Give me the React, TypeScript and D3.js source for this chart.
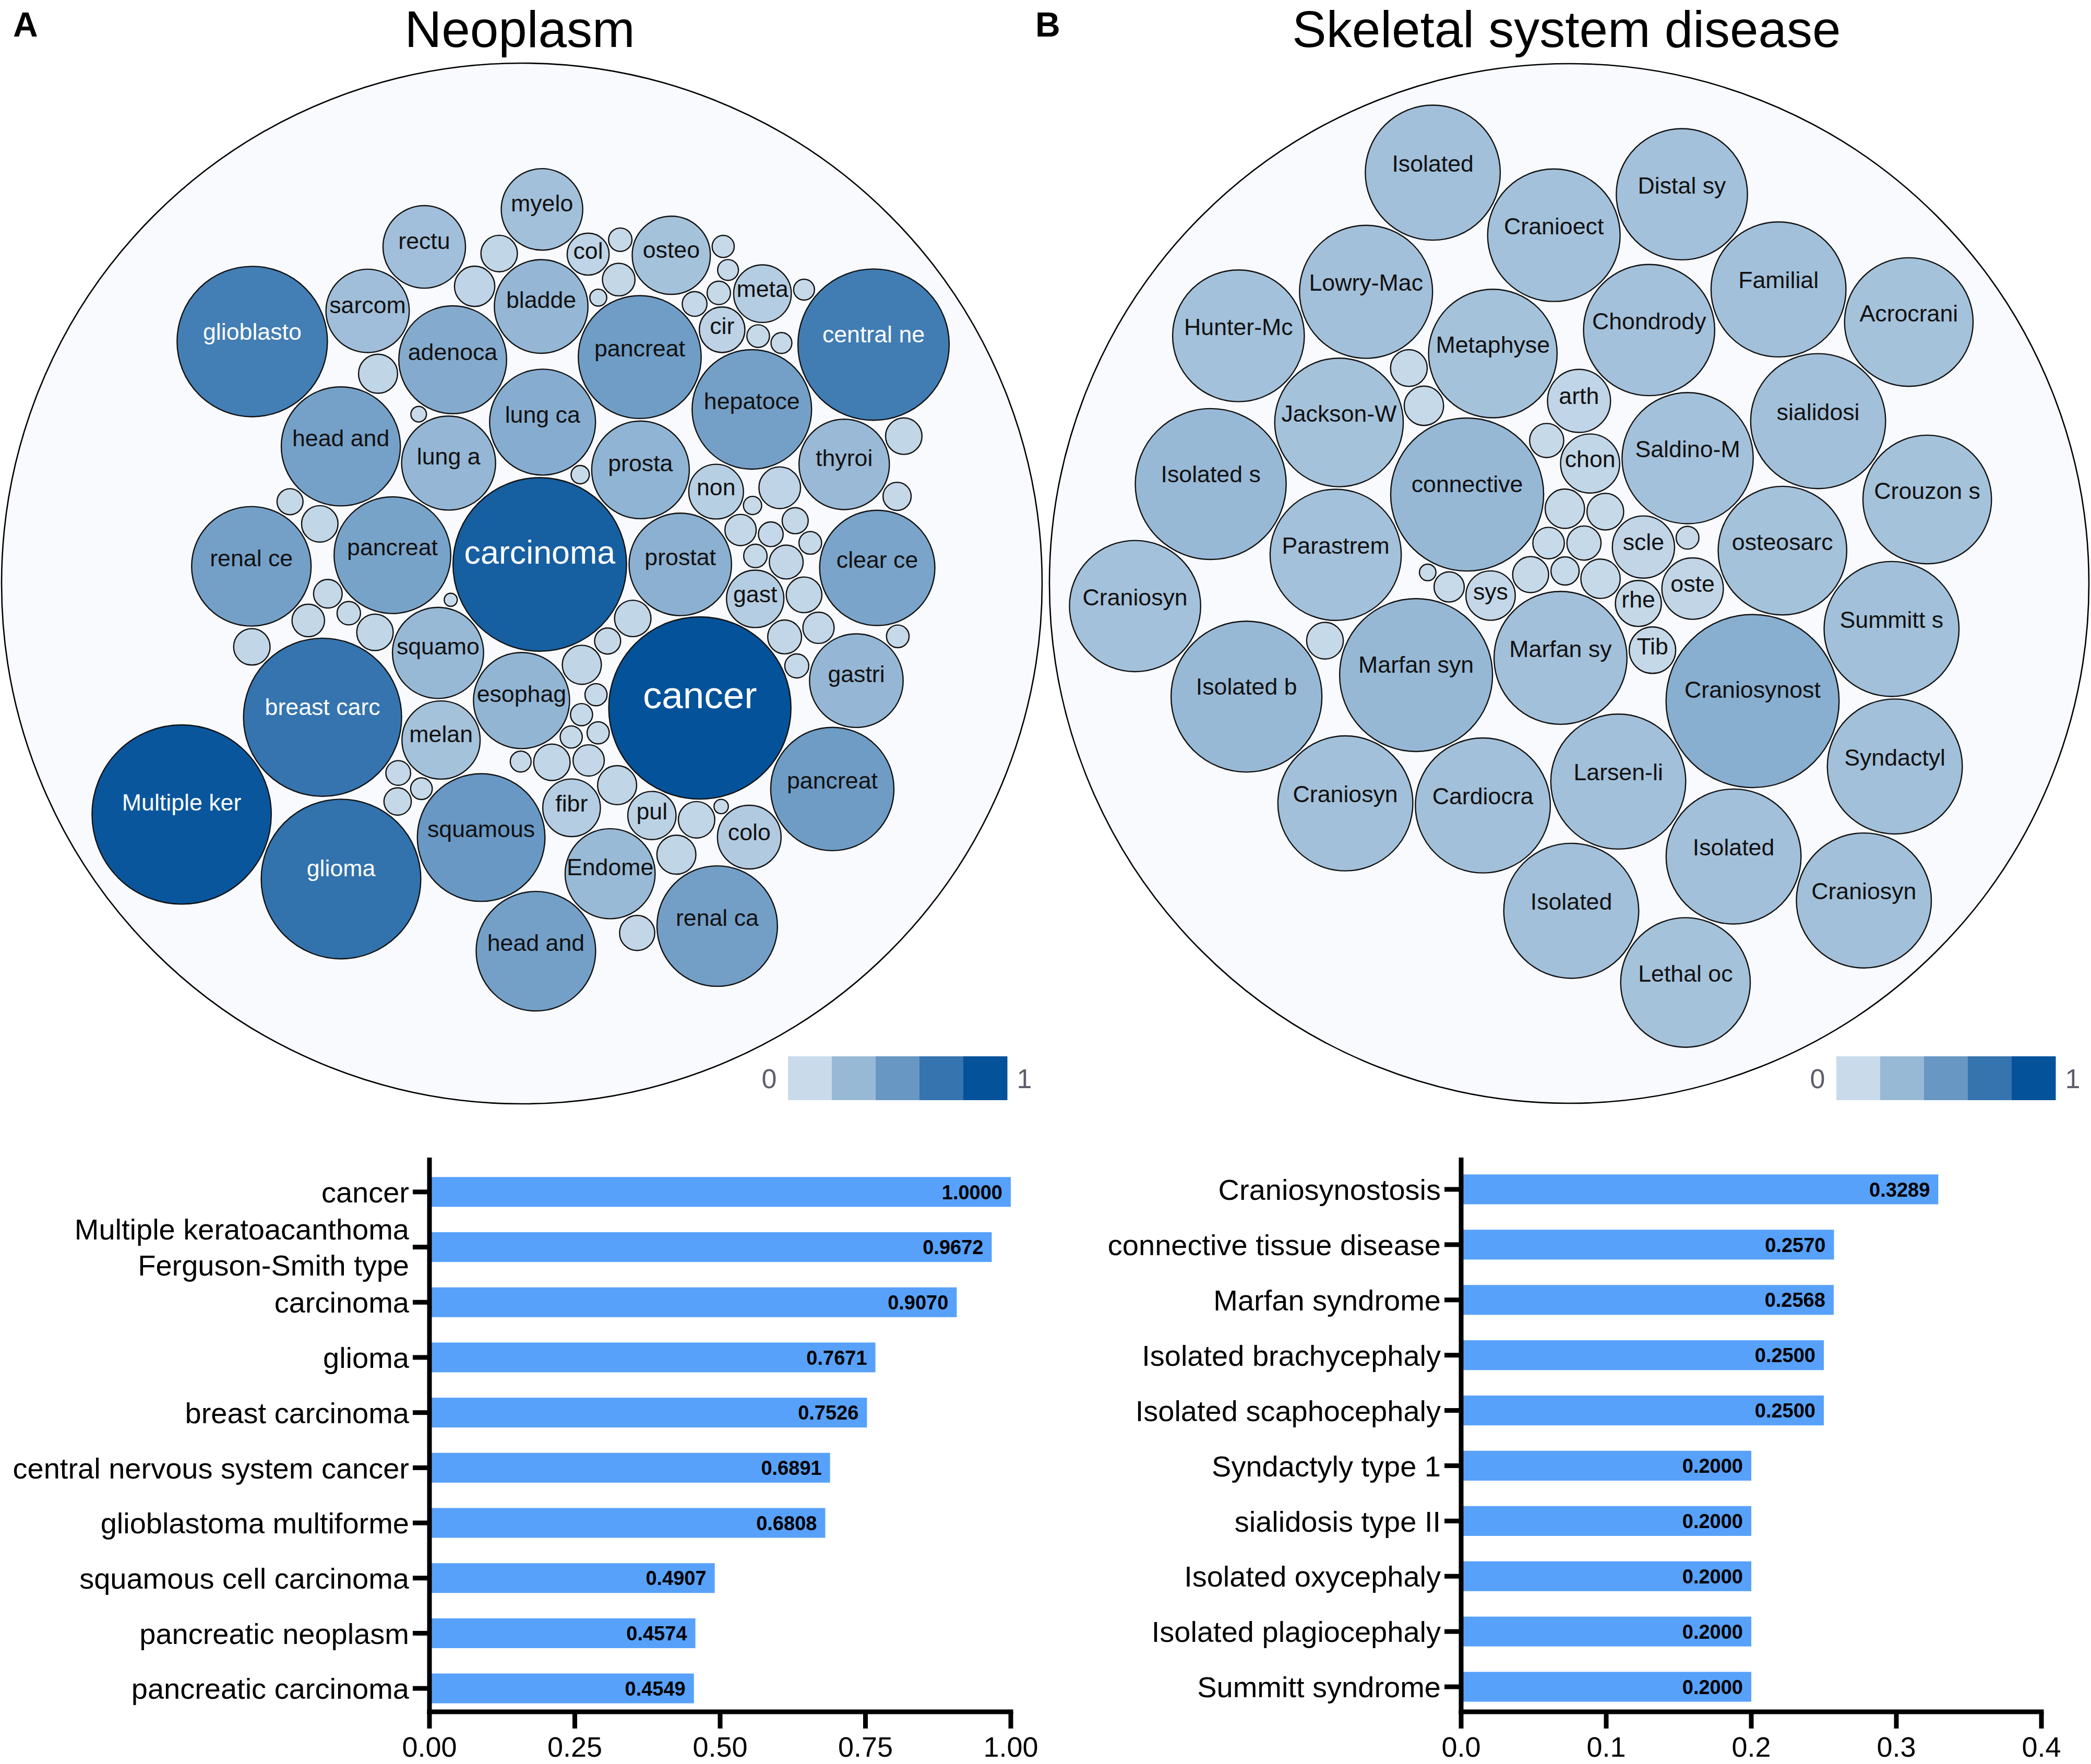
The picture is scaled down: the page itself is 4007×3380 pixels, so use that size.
import React, { useMemo } from "react";
import * as d3 from "d3";

const W = 4007;
const H = 3380;
const FONT = "'Liberation Sans', Arial, Helvetica, sans-serif";

// ---------- Bubble data (listed from the centre of the cluster outward) ----------
const neoLabels = [
  "carcinoma", "prostat", "", "prosta", "", "", "", "cancer", "", "lung ca",
  "non", "esophag", "pancreat", "lung a", "squamo", "gast", "", "", "hepatoce", "pancreat",
  "", "", "", "", "", "", "adenoca", "", "melan", "",
  "", "", "", "", "", "", "bladde", "head and", "", "fibr",
  "", "", "", "squamous", "", "clear ce", "breast carc", "thyroi", "", "",
  "cir", "pul", "gastri", "", "pancreat", "", "", "Endome", "", "",
  "", "", "", "central ne", "", "", "renal ce", "", "", "",
  "head and", "", "", "col", "colo", "", "osteo", "", "", "",
  "renal ca", "sarcom", "", "", "meta", "", "glioblasto", "glioma", "rectu", "Multiple ker",
  "", "", "", "", "myelo", "", "",
];
const neoValues = [
  0.907, 0.316, 0.04, 0.287, 0.0204, 0.01, 0.0459, 1.0, 0.0147, 0.338,
  0.09, 0.278, 0.4549, 0.266, 0.25, 0.099, 0.0147, 0.0294, 0.43, 0.41,
  0.0051, 0.0147, 0.0165, 0.04, 0.01, 0.0147, 0.35, 0.0184, 0.184, 0.0294,
  0.0345, 0.0522, 0.0345, 0.0204, 0.0459, 0.04, 0.264, 0.427, 0.0383, 0.1,
  0.0154, 0.0131, 0.0294, 0.4907, 0.0173, 0.4, 0.7526, 0.246, 0.0238, 0.0073,
  0.0625, 0.07, 0.264, 0.0165, 0.4574, 0.0459, 0.0154, 0.244, 0.04, 0.0086,
  0.04, 0.0247, 0.0319, 0.6891, 0.049, 0.0184, 0.43, 0.0141, 0.0154, 0.0184,
  0.43, 0.0062, 0.0319, 0.053, 0.122, 0.0459, 0.184, 0.0225, 0.0131, 0.0204,
  0.437, 0.209, 0.0165, 0.0372, 0.1, 0.0131, 0.6808, 0.7671, 0.205, 0.9672,
  0.0131, 0.04, 0.0147, 0.04, 0.2, 0.0165, 0.04,
];

const skelLabels = [
  "", "", "", "", "", "", "", "connective", "scle", "sys",
  "Marfan sy", "chon", "", "rhe", "Saldino-M", "Tib", "oste", "", "Marfan syn", "arth",
  "", "Chondrody", "Metaphyse", "osteosarc", "Craniosynost", "", "Larsen-li", "Parastrem", "Cardiocra", "",
  "Cranioect", "Jackson-W", "sialidosi", "Familial", "", "", "Lowry-Mac", "Summitt s", "Isolated", "Isolated",
  "Craniosyn", "Isolated s", "Crouzon s", "Isolated b", "Isolated", "Craniosyn", "Distal sy", "Hunter-Mc", "Syndactyl", "Lethal oc",
  "Acrocrani", "Craniosyn",
];
const skelValues = [
  0.0109, 0.0128, 0.0087, 0.017, 0.017, 0.0142, 0.0148, 0.257, 0.0425, 0.0267,
  0.194, 0.0383, 0.0128, 0.0232, 0.189, 0.0237, 0.0414, 0.01, 0.2568, 0.0436,
  0.0057, 0.189, 0.1815, 0.1815, 0.3289, 0.003, 0.2, 0.189, 0.2, 0.017,
  0.1928, 0.1815, 0.2, 0.2, 0.0148, 0.0148, 0.1944, 0.2, 0.2, 0.2,
  0.2, 0.25, 0.1815, 0.25, 0.2, 0.189, 0.189, 0.1905, 0.2, 0.1845,
  0.1815, 0.2,
];

// ---------- Bar data ----------
const neoBarLabels = [
  "cancer",
  "Multiple keratoacanthoma\nFerguson-Smith type",
  "carcinoma",
  "glioma",
  "breast carcinoma",
  "central nervous system cancer",
  "glioblastoma multiforme",
  "squamous cell carcinoma",
  "pancreatic neoplasm",
  "pancreatic carcinoma",
];
const neoBarValues = [1.0, 0.9672, 0.907, 0.7671, 0.7526, 0.6891, 0.6808, 0.4907, 0.4574, 0.4549];

const skelBarLabels = [
  "Craniosynostosis",
  "connective tissue disease",
  "Marfan syndrome",
  "Isolated brachycephaly",
  "Isolated scaphocephaly",
  "Syndactyly type 1",
  "sialidosis type II",
  "Isolated oxycephaly",
  "Isolated plagiocephaly",
  "Summitt syndrome",
];
const skelBarValues = [0.3289, 0.257, 0.2568, 0.25, 0.25, 0.2, 0.2, 0.2, 0.2, 0.2];

const neoTicks = [0, 0.25, 0.5, 0.75, 1.0];
const skelTicks = [0, 0.1, 0.2, 0.3, 0.4];
const legendStops = [0, 0.25, 0.5, 0.75, 1];

const colorScale = d3
  .scaleLinear<string>()
  .domain([0, 1])
  .range(["#c9dbea", "#04529a"])
  .interpolate(d3.interpolateRgb);

type PNode = { i: number; v: number; r: number; x: number; y: number };

function Bubbles(props: {
  cx: number;
  cy: number;
  R: number;
  labels: string[];
  values: number[];
  refK: number;
}) {
  const { cx, cy, R, labels, values, refK } = props;
  const layout = useMemo(() => {
    const pad = 2.5 / refK;
    const nodes: PNode[] = values.map((v, i) => ({ i, v, r: Math.sqrt(v) + pad, x: 0, y: 0 }));
    d3.packSiblings(nodes as any);
    const enc = d3.packEnclose(nodes as any) as any;
    const k = Math.min(refK, (R * 0.965) / enc.r);
    return { nodes, enc, k, pad };
  }, [values, refK, R]);
  const sx = d3.scaleLinear().domain([layout.enc.x, layout.enc.x + 1]).range([cx, cx + layout.k]);
  const sy = d3.scaleLinear().domain([layout.enc.y, layout.enc.y + 1]).range([cy, cy + layout.k]);
  return (
    <g>
      <circle cx={cx} cy={cy} r={R} fill="#f8fafd" stroke="#000" strokeWidth={2.6} />
      {layout.nodes.map((n) => {
        const r = (n.r - layout.pad) * layout.k;
        const x = sx(n.x);
        const y = sy(n.y);
        const lab = labels[n.i];
        const big = r > 153 && lab.length <= 9;
        const fs = big ? Math.min(72.8, (3.4 * r) / lab.length) : 44.7;
        return (
          <g key={n.i}>
            <circle cx={x} cy={y} r={r} fill={colorScale(n.v)} stroke="#111" strokeWidth={2.4} />
            {lab ? (
              <text
                x={x}
                y={y - 0.12 * r}
                dy="0.3em"
                textAnchor="middle"
                fontSize={fs}
                fill={n.v >= 0.6 ? "#ffffff" : "#111111"}
              >
                {lab}
              </text>
            ) : null}
          </g>
        );
      })}
    </g>
  );
}

function Legend(props: { x0: number; x1: number; y: number; h: number }) {
  const { x0, x1, y, h } = props;
  const band = d3.scaleBand<number>().domain(legendStops.map((_, i) => i)).range([x0, x1]);
  return (
    <g>
      {legendStops.map((s, i) => (
        <rect key={i} x={band(i)!} y={y} width={band.bandwidth() + 0.5} height={h} fill={colorScale(s)} />
      ))}
      <text x={x0 - 36} y={y + h / 2} dy="0.36em" textAnchor="middle" fontSize={52} fill="#5d5d6b">
        0
      </text>
      <text x={x1 + 33} y={y + h / 2} dy="0.36em" textAnchor="middle" fontSize={52} fill="#5d5d6b">
        1
      </text>
    </g>
  );
}

function BarChart(props: {
  labels: string[];
  values: number[];
  xMax: number;
  ticks: number[];
  fmt: (v: number) => string;
  x0: number;
  x1: number;
  bandTop: number;
  bandBottom: number;
  axisTop: number;
  axisY: number;
}) {
  const { labels, values, xMax, ticks, fmt, x0, x1, bandTop, bandBottom, axisTop, axisY } = props;
  const x = d3.scaleLinear().domain([0, xMax]).range([x0, x1]);
  const y = d3
    .scaleBand<string>()
    .domain(labels)
    .range([bandTop, bandBottom])
    .paddingInner(0.46)
    .paddingOuter(0.23);
  const bw = y.bandwidth();
  const AX = 9;
  return (
    <g>
      {labels.map((l, i) => {
        const yc = y(l)! + bw / 2;
        const lines = l.split("\n");
        return (
          <g key={l}>
            <rect x={x(0)} y={y(l)!} width={x(values[i]) - x(0)} height={bw} fill="#57a1fa" />
            <text
              x={x(values[i]) - 16}
              y={yc}
              dy="0.36em"
              textAnchor="end"
              fontSize={38}
              fontWeight="bold"
              fill="#000"
            >
              {values[i].toFixed(4)}
            </text>
            <line x1={x(0) - 32} x2={x(0)} y1={yc} y2={yc} stroke="#000" strokeWidth={AX} />
            {lines.length === 1 ? (
              <text x={x(0) - 39} y={yc} dy="0.36em" textAnchor="end" fontSize={56} fill="#000">
                {l}
              </text>
            ) : (
              <text x={x(0) - 39} y={yc} textAnchor="end" fontSize={56} fill="#000">
                {lines.map((ln, j) => (
                  <tspan key={j} x={x(0) - 39} y={yc + (j - (lines.length - 1) / 2) * 69} dy="0.36em">
                    {ln}
                  </tspan>
                ))}
              </text>
            )}
          </g>
        );
      })}
      <line x1={x(0)} x2={x(0)} y1={axisTop} y2={axisY + AX / 2} stroke="#000" strokeWidth={AX} />
      <line x1={x(0) - AX / 2} x2={x(xMax) + AX / 2} y1={axisY} y2={axisY} stroke="#000" strokeWidth={AX} />
      {ticks.map((t) => (
        <g key={t}>
          <line x1={x(t)} x2={x(t)} y1={axisY} y2={axisY + 32} stroke="#000" strokeWidth={AX} />
          <text x={x(t)} y={3366} textAnchor="middle" fontSize={54} fill="#000">
            {fmt(t)}
          </text>
        </g>
      ))}
    </g>
  );
}

export default function App() {
  return (
    <svg
      width={W}
      height={H}
      viewBox={`0 0 ${W} ${H}`}
      style={{ position: "absolute", left: 0, top: 0, display: "block", background: "#fff" }}
      fontFamily={FONT}
    >
      <rect x={0} y={0} width={W} height={H} fill="#fff" />
      <text x={25} y={70} fontSize={66} fontWeight="bold" fill="#000">A</text>
      <text x={1984} y={70} fontSize={66} fontWeight="bold" fill="#000">B</text>
      <text x={996} y={90} fontSize={98} textAnchor="middle" fill="#000">Neoplasm</text>
      <text x={3002} y={90} fontSize={98} textAnchor="middle" fill="#000">Skeletal system disease</text>

      <Bubbles cx={1000} cy={1118} R={997} labels={neoLabels} values={neoValues} refK={178.9} />
      <Bubbles cx={3007} cy={1118} R={996} labels={skelLabels} values={skelValues} refK={293.8} />

      <Legend x0={1510} x1={1930} y={2024} h={84} />
      <Legend x0={3519} x1={3939} y={2024} h={84} />

      <BarChart
        labels={neoBarLabels}
        values={neoBarValues}
        xMax={1}
        ticks={neoTicks}
        fmt={(v) => v.toFixed(2)}
        x0={823}
        x1={1937}
        bandTop={2231}
        bandBottom={3288}
        axisTop={2218}
        axisY={3280}
      />
      <BarChart
        labels={skelBarLabels}
        values={skelBarValues}
        xMax={0.4}
        ticks={skelTicks}
        fmt={(v) => v.toFixed(1)}
        x0={2800}
        x1={3912}
        bandTop={2226}
        bandBottom={3285}
        axisTop={2218}
        axisY={3280}
      />
    </svg>
  );
}
